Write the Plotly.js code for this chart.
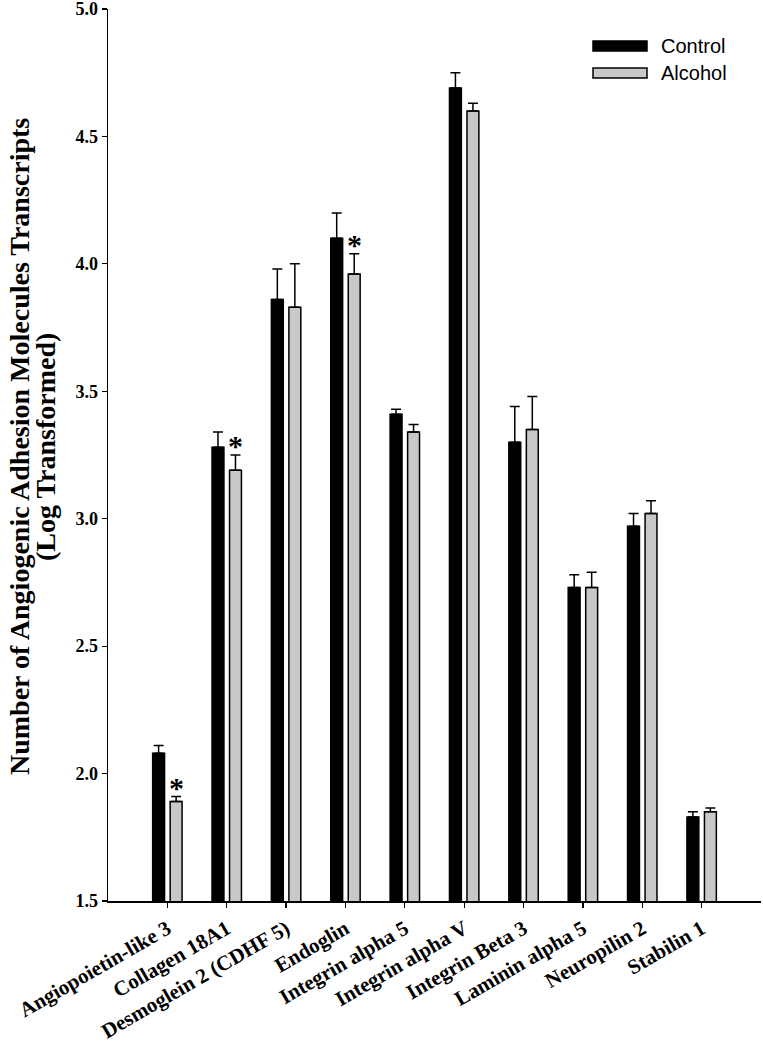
<!DOCTYPE html>
<html>
<head>
<meta charset="utf-8">
<script src="https://cdn.plot.ly/plotly-3.0.1.min.js"></script>
<style>html,body{margin:0;padding:0;background:#fff;}#chart{width:763px;height:1046px;}</style>
</head>
<body>
<div id="chart"></div>
<script>
const categories = ["Angiopoietin-like 3", "Collagen 18A1", "Desmoglein 2 (CDHF 5)", "Endoglin",
  "Integrin alpha 5", "Integrin alpha V", "Integrin Beta 3", "Laminin alpha 5", "Neuropilin 2", "Stabilin 1"];
const control = [2.08, 3.28, 3.86, 4.10, 3.41, 4.69, 3.30, 2.73, 2.97, 1.83];
const controlErr = [0.03, 0.06, 0.12, 0.10, 0.02, 0.06, 0.14, 0.05, 0.05, 0.02];
const alcohol = [1.89, 3.19, 3.83, 3.96, 3.34, 4.60, 3.35, 2.73, 3.02, 1.85];
const alcoholErr = [0.02, 0.06, 0.17, 0.08, 0.03, 0.03, 0.13, 0.06, 0.05, 0.015];
const significant = [true, true, false, true, false, false, false, false, false, false];
const seriesNames = ["Control", "Alcohol"];
const yTicks = [1.5, 2.0, 2.5, 3.0, 3.5, 4.0, 4.5, 5.0];
const yTitleLines = ["Number of Angiogenic Adhesion Molecules Transcripts", "(Log Transformed)"];

const W = 763, H = 1046;
const M = {l: 108, r: 2, t: 9, b: 145};
const px = x => (x - M.l) / (W - M.l - M.r);
const py = y => 1 - (y - M.t) / (H - M.t - M.b);
const SERIF = "Liberation Serif, Times New Roman, serif";

const zeros = categories.map(() => 0);
const traces = [
  {
    type: "bar", name: seriesNames[0], x: categories, y: control,
    marker: {color: "#000000", line: {color: "#000000", width: 1.5}},
    error_y: {type: "data", symmetric: false, array: controlErr, arrayminus: zeros,
      color: "#000000", thickness: 1.5, width: 5},
    showlegend: false
  },
  {
    type: "bar", name: seriesNames[1], x: categories, y: alcohol,
    marker: {color: "#c8c8c8", line: {color: "#000000", width: 1.5}},
    error_y: {type: "data", symmetric: false, array: alcoholErr, arrayminus: zeros,
      color: "#000000", thickness: 1.5, width: 5},
    showlegend: false
  }
];

const annotations = [];
categories.forEach((c, i) => {
  if (significant[i]) {
    annotations.push({
      x: c, y: alcohol[i] + alcoholErr[i], xref: "x", yref: "y",
      text: "<b>*</b>", showarrow: false, xshift: 9, yshift: -9,
      xanchor: "center", yanchor: "bottom",
      font: {family: SERIF, size: 30, color: "#000"}
    });
  }
});

// y-axis title, two lines set close together as in the original
[19, 45].forEach((xc, k) => {
  annotations.push({
    xref: "paper", yref: "paper", x: px(xc), y: py(447),
    xanchor: "center", yanchor: "middle", textangle: -90, showarrow: false,
    borderpad: 0,
    text: "<b>" + yTitleLines[k] + "</b>",
    font: {family: SERIF, size: 28, color: "#000"}
  });
});

// legend (drawn manually to match the long flat swatches)
const legendRows = [
  {name: seriesNames[0], fill: "#000000", y: 46},
  {name: seriesNames[1], fill: "#c8c8c8", y: 73}
];
const shapes = [];
legendRows.forEach(r => {
  shapes.push({type: "rect", xref: "paper", yref: "paper",
    x0: px(593), x1: px(647), y0: py(r.y - 5), y1: py(r.y + 5),
    fillcolor: r.fill, line: {color: "#000", width: 1.5}});
  annotations.push({xref: "paper", yref: "paper", x: px(659), y: py(r.y),
    xanchor: "left", yanchor: "middle", showarrow: false, text: r.name,
    font: {family: "Liberation Sans, Arial, sans-serif", size: 20, color: "#000"}});
});

const layout = {
  width: W, height: H,
  margin: M,
  paper_bgcolor: "#fff", plot_bgcolor: "#fff",
  barmode: "group", bargap: 0.41, bargroupgap: 0.32,
  showlegend: false,
  font: {family: SERIF, color: "#000"},
  xaxis: {
    type: "category", range: [-1, 10], showgrid: false, zeroline: false,
    showline: true, linecolor: "#000", linewidth: 1.5,
    ticks: "outside", ticklen: 5, tickwidth: 1.2, tickcolor: "#000",
    tickangle: -30, ticklabelstandoff: 1,
    tickfont: {family: SERIF, size: 21, color: "#000", weight: "bold"}
  },
  yaxis: {
    range: [1.5, 5.0], tickvals: yTicks, ticktext: yTicks.map(v => "<b>" + v.toFixed(1) + "</b>"),
    ticklabeloverflow: "allow",
    showgrid: false, zeroline: false,
    showline: true, linecolor: "#000", linewidth: 1.5,
    ticks: "outside", ticklen: 5, tickwidth: 1.2, tickcolor: "#000",
    tickfont: {family: SERIF, size: 18, color: "#000"}
  },
  annotations: annotations,
  shapes: shapes
};

Plotly.newPlot("chart", traces, layout, {displayModeBar: false, staticPlot: true});
</script>
</body>
</html>
